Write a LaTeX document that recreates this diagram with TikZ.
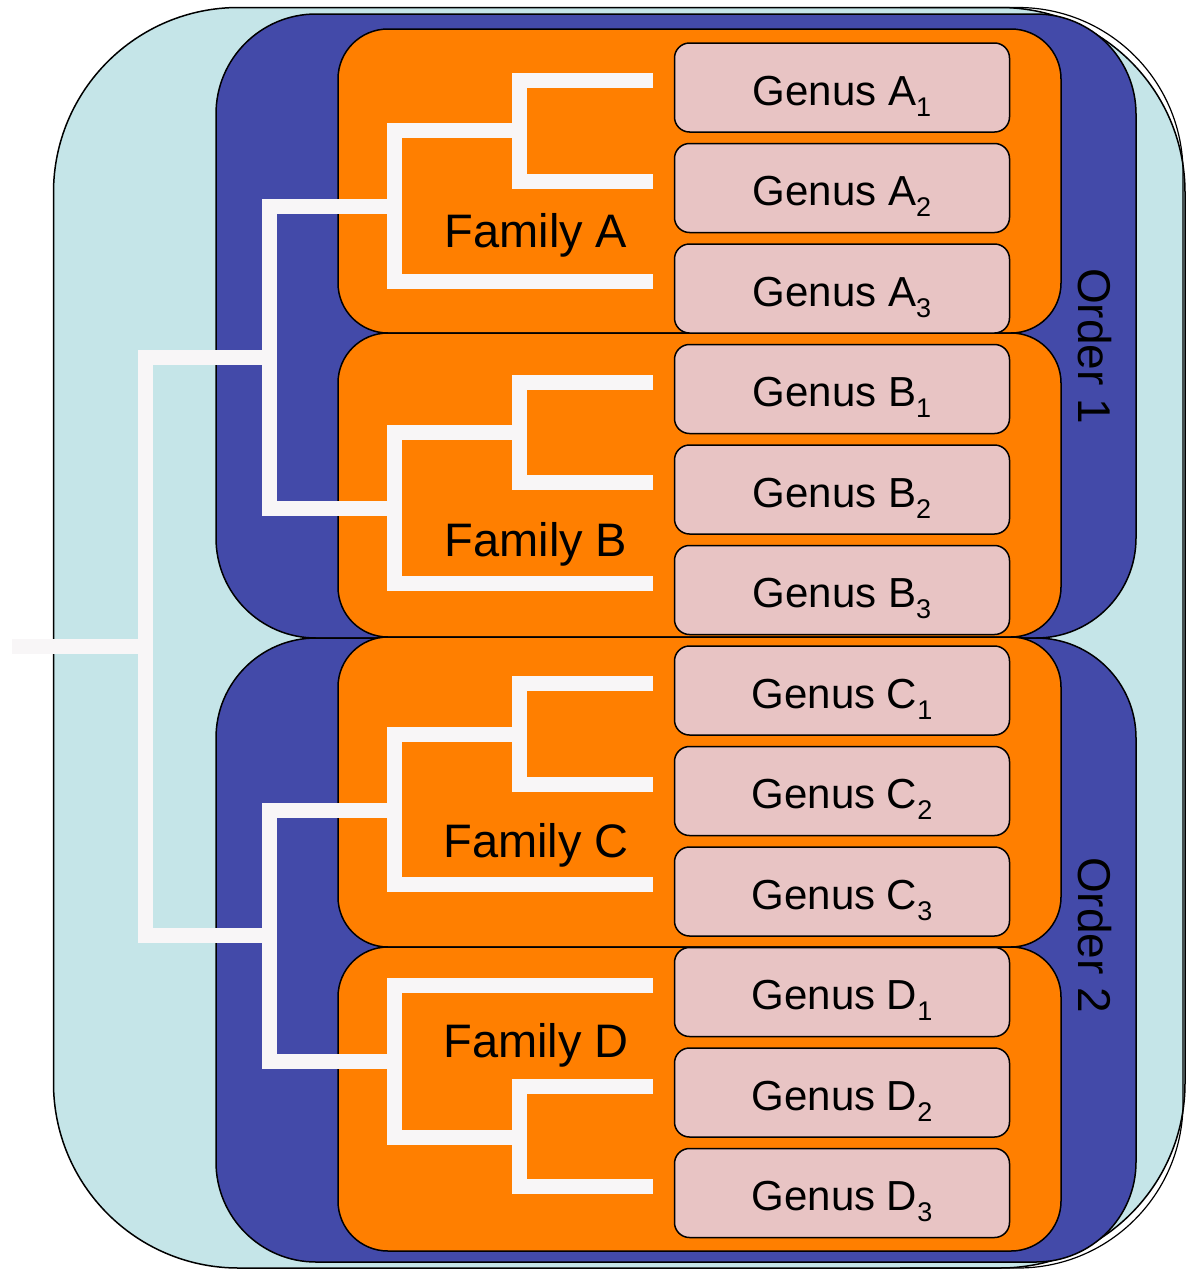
\documentclass[tikz,border=0pt]{standalone}
\usepackage{fontspec}
\setmainfont{Liberation Sans}
\usetikzlibrary{calc}
\definecolor{cyanbg}{HTML}{C5E5E8}
\definecolor{orderblue}{HTML}{434AA9}
\definecolor{famorange}{HTML}{FF7F00}
\definecolor{genuspink}{HTML}{E8C4C4}
\definecolor{treewhite}{HTML}{F8F6F7}
\newcommand\gsub[1]{\raisebox{-11pt}{\fontsize{27}{27}\selectfont #1}}
\tikzset{
  outerbox/.style={draw=black, line width=1.5pt, fill=cyanbg, rectangle, rounded corners=185pt, inner sep=0pt, outer sep=0pt},
  orderbox/.style={draw=black, line width=1.5pt, fill=orderblue, rectangle, rounded corners=100pt, minimum width=920pt, minimum height=624pt, inner sep=0pt, outer sep=0pt},
  fambox/.style={draw=black, line width=1.5pt, fill=famorange, rectangle, rounded corners=50pt, minimum width=723pt, inner sep=0pt, outer sep=0pt},
  genusbox/.style={draw=black, line width=1.5pt, fill=genuspink, rectangle, rounded corners=15pt, minimum width=335pt, minimum height=89pt, inner sep=0pt, outer sep=0pt},
  genustext/.style={anchor=base, inner sep=0pt, font=\fontsize{42}{50}\selectfont},
  famtext/.style={anchor=base, inner sep=0pt, font=\fontsize{47}{56}\selectfont},
  ordtext/.style={rotate=-90, inner sep=0pt, font=\fontsize{46}{55}\selectfont},
  tree/.style={draw=treewhite, line width=15pt, line join=miter, line cap=butt},
}
\begin{document}
\begin{tikzpicture}[x=1pt,y=-1pt]
\useasboundingbox (0,0) rectangle (1194,1269);
% outer class box
\node[outerbox, minimum width=1131.5pt, minimum height=1260.5pt] (cls) at (619.25,637.75) {};
\draw[line width=1.2pt, rounded corners=165pt] (900,7.5) -- (1183,7.5) -- (1183,1268) -- (900,1268);
% orders
\node[orderbox] (ord1) at (676,326) {};
\node[orderbox] (ord2) at (676,950) {};
% families
\node[fambox, minimum height=304pt] (famA) at (699.5,181) {};
\node[fambox, minimum height=304pt] (famB) at (699.5,485) {};
\node[fambox, minimum height=310pt] (famC) at (699.5,792) {};
\node[fambox, minimum height=304pt] (famD) at (699.5,1099) {};
% genera
\foreach \n/\i in {A1/0,A2/1,A3/2,B1/3,B2/4,B3/5,C1/6,C2/7,C3/8,D1/9,D2/10,D3/11}{
  \node[genusbox] (g\n) at (842,{87.5+100.5*\i}) {};
}
\foreach \n/\l/\s in {A1/A/1,A2/A/2,A3/A/3,B1/B/1,B2/B/2,B3/B/3,C1/C/1,C2/C/2,C3/C/3,D1/D/1,D2/D/2,D3/D/3}{
  \node[genustext] (lab\n) at ([yshift=-17.5pt]g\n.center) {Genus \l\gsub{\s}};
}
% tree coordinates
\foreach \n/\i in {A1/0,A2/1,A3/2,B1/3,B2/4,B3/5,C1/6,C2/7,C3/8,D1/9,D2/10,D3/11}{
  \coordinate (t\n) at (653,{80.5+100.55*\i});
}
\coordinate (jA) at (519,130.75);
\coordinate (jB) at (519,432.6);
\coordinate (jC) at (519,734.7);
\coordinate (jD) at (519,1137.3);
\coordinate (fA) at (394,206.1);
\coordinate (fB) at (394,508.3);
\coordinate (fC) at (394,810.1);
\coordinate (fD) at (394,1061.6);
\coordinate (o1) at (269.5,357.2);
\coordinate (o2) at (269.5,935.9);
\coordinate (r) at (145,646.5);
\coordinate (stub) at (12,646.5);
% tree
\draw[tree] (tA1) -| (jA) |- (tA2);
\draw[tree] (jA) -| (fA) |- (tA3);
\draw[tree] (tB1) -| (jB) |- (tB2);
\draw[tree] (jB) -| (fB) |- (tB3);
\draw[tree] (tC1) -| (jC) |- (tC2);
\draw[tree] (jC) -| (fC) |- (tC3);
\draw[tree] (tD2) -| (jD) |- (tD3);
\draw[tree] (tD1) -| (fD) |- (jD);
\draw[tree] (fA) -| (o1) |- (fB);
\draw[tree] (fC) -| (o2) |- (fD);
\draw[tree] (o1) -| (r) |- (o2);
\draw[tree] (r) -- (stub);
% family labels
\node[famtext] (famAlab) at (536,247) {Family A};
\node[famtext] (famBlab) at (536,556) {Family B};
\node[famtext] (famClab) at (536,857) {Family C};
\node[famtext] (famDlab) at (536,1057) {Family D};
% order labels
\node[ordtext] (ord1lab) at (1095,346) {Order 1};
\node[ordtext] (ord2lab) at (1095,935) {Order 2};
\end{tikzpicture}
\end{document}
